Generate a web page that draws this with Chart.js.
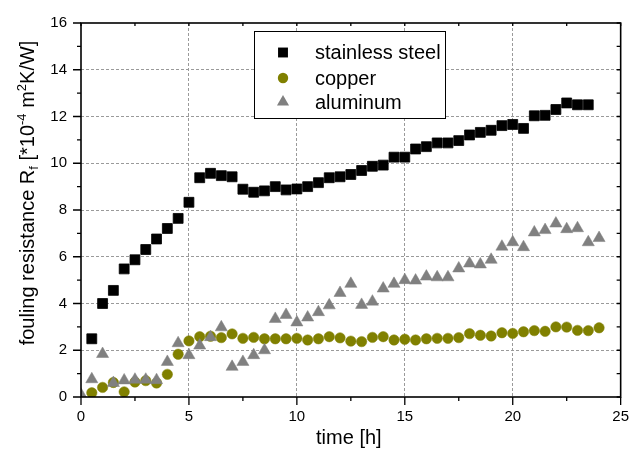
<!DOCTYPE html>
<html>
<head>
<meta charset="utf-8">
<script src="https://cdn.jsdelivr.net/npm/chart.js@4/dist/chart.umd.min.js"></script>
<style>
  html, body { margin: 0; padding: 0; background: #fff; }
  #wrap { width: 640px; height: 454px; position: relative; }
</style>
</head>
<body>
<div id="wrap"><canvas id="chart" width="640" height="454"></canvas></div>
<script>
// Fouling resistance Rf [*10^-4 m^2K/W] versus time [h] for three tube materials.
const seriesNames = ['stainless steel', 'copper', 'aluminum'];

const steelTime = [0.5, 1, 1.5, 2, 2.5, 3, 3.5, 4, 4.5, 5, 5.5, 6, 6.5, 7, 7.5, 8, 8.5, 9, 9.5, 10,
  10.5, 11, 11.5, 12, 12.5, 13, 13.5, 14, 14.5, 15, 15.5, 16, 16.5, 17, 17.5, 18, 18.5, 19, 19.5, 20,
  20.5, 21, 21.5, 22, 22.5, 23, 23.5];
const steelRf = [2.49, 4.0, 4.56, 5.48, 5.87, 6.31, 6.76, 7.21, 7.64, 8.33, 9.38, 9.57, 9.47, 9.42, 8.89, 8.76, 8.82, 9.0, 8.86, 8.9,
  9.0, 9.17, 9.38, 9.42, 9.52, 9.69, 9.87, 9.92, 10.26, 10.26, 10.61, 10.71, 10.87, 10.87, 10.97, 11.21, 11.32, 11.41, 11.61, 11.66,
  11.49, 12.03, 12.05, 12.30, 12.58, 12.5, 12.5];

const copperTime = [0.5, 1, 1.5, 2, 2.5, 3, 3.5, 4, 4.5, 5, 5.5, 6, 6.5, 7, 7.5, 8, 8.5, 9, 9.5, 10,
  10.5, 11, 11.5, 12, 12.5, 13, 13.5, 14, 14.5, 15, 15.5, 16, 16.5, 17, 17.5, 18, 18.5, 19, 19.5, 20,
  20.5, 21, 21.5, 22, 22.5, 23, 23.5, 24];
const copperRf = [0.18, 0.41, 0.62, 0.22, 0.64, 0.70, 0.60, 0.97, 1.83, 2.40, 2.58, 2.60, 2.54, 2.70, 2.51, 2.55, 2.49, 2.49, 2.49, 2.51,
  2.44, 2.49, 2.58, 2.53, 2.39, 2.37, 2.55, 2.58, 2.44, 2.47, 2.44, 2.49, 2.51, 2.51, 2.54, 2.71, 2.64, 2.61, 2.75, 2.72,
  2.79, 2.84, 2.81, 3.00, 2.99, 2.85, 2.84, 2.96];

const aluminumTime = [0, 0.5, 1, 1.5, 2, 2.5, 3, 3.5, 4, 4.5, 5, 5.5, 6, 6.5, 7, 7.5, 8, 8.5, 9, 9.5, 10,
  10.5, 11, 11.5, 12, 12.5, 13, 13.5, 14, 14.5, 15, 15.5, 16, 16.5, 17, 17.5, 18, 18.5, 19, 19.5, 20,
  20.5, 21, 21.5, 22, 22.5, 23, 23.5, 24];
const aluminumRf = [0.1, 0.76, 1.84, 0.6, 0.71, 0.74, 0.74, 0.72, 1.5, 2.3, 1.79, 2.2, 2.56, 2.98, 1.29, 1.5, 1.79, 2.0, 3.34, 3.51, 3.19,
  3.4, 3.63, 3.92, 4.45, 4.84, 3.94, 4.08, 4.64, 4.84, 5.0, 4.98, 5.15, 5.12, 5.12, 5.5, 5.71, 5.67, 5.87, 6.43, 6.62,
  6.41, 7.04, 7.14, 7.42, 7.18, 7.22, 6.62, 6.8];

// Axis ticks (major ones carry labels and dashed grid lines)
const xMajorTicks = [0, 5, 10, 15, 20, 25];
const xMinorTicks = [2.5, 7.5, 12.5, 17.5, 22.5];
const yMajorTicks = [0, 2, 4, 6, 8, 10, 12, 14, 16];
const yMinorTicks = [1, 3, 5, 7, 9, 11, 13, 15];

const xTitle = 'time [h]';
// y title as rich-text runs: normal / sub / sup
const yTitleRuns = [
  { text: 'fouling resistance R', kind: 'n' },
  { text: 'f', kind: 'sub' },
  { text: ' [*10', kind: 'n' },
  { text: '-4', kind: 'sup' },
  { text: ' m', kind: 'n' },
  { text: '2', kind: 'sup' },
  { text: 'K/W]', kind: 'n' }
];

const FONT = "'Liberation Sans', Arial, Helvetica, sans-serif";

function toPoints(xs, ys) {
  return xs.map((x, i) => ({ x: x, y: ys[i] }));
}

function drawMarker(ctx, style, x, y, r, color) {
  ctx.fillStyle = color;
  ctx.beginPath();
  if (style === 'rect') {
    const s = Math.SQRT1_2 * r;
    ctx.rect(x - s, y - s, 2 * s, 2 * s);
  } else if (style === 'circle') {
    ctx.arc(x, y, r, 0, Math.PI * 2);
  } else if (style === 'triangle') {
    let a = 0;
    ctx.moveTo(x + Math.sin(a) * r, y - Math.cos(a) * r);
    a += Math.PI * 2 / 3;
    ctx.lineTo(x + Math.sin(a) * r, y - Math.cos(a) * r);
    a += Math.PI * 2 / 3;
    ctx.lineTo(x + Math.sin(a) * r, y - Math.cos(a) * r);
    ctx.closePath();
  }
  ctx.fill();
}

// Box frame with outward major/minor ticks on left & bottom, inward ticks on right & top
const framePlugin = {
  id: 'frame',
  afterDatasetsDraw(chart) {
    const { ctx, chartArea: a, scales: { x, y } } = chart;
    ctx.save();
    ctx.strokeStyle = '#000';
    ctx.lineWidth = 1.3;
    ctx.beginPath();
    const yMarks = yMajorTicks.map(v => [v, 8]).concat(yMinorTicks.map(v => [v, 4]));
    for (const [v, len] of yMarks) {
      const p = y.getPixelForValue(v);
      ctx.moveTo(a.left - len, p); ctx.lineTo(a.left, p);
      ctx.moveTo(a.right, p); ctx.lineTo(a.right - 4, p);
    }
    const xMarks = xMajorTicks.map(v => [v, 8]).concat(xMinorTicks.map(v => [v, 4]));
    for (const [v, len] of xMarks) {
      const p = x.getPixelForValue(v);
      ctx.moveTo(p, a.bottom); ctx.lineTo(p, a.bottom + len);
      ctx.moveTo(p, a.top); ctx.lineTo(p, a.top + 3);
    }
    ctx.stroke();
    ctx.lineWidth = 1.6;
    ctx.strokeRect(a.left, a.top, a.right - a.left, a.bottom - a.top);
    ctx.restore();
  }
};

// Axis titles (y title with subscript / superscripts)
const titlesPlugin = {
  id: 'titles',
  afterDraw(chart) {
    const { ctx, chartArea: a } = chart;
    ctx.save();
    ctx.fillStyle = '#000';
    ctx.font = '20px ' + FONT;
    ctx.textAlign = 'center';
    ctx.textBaseline = 'alphabetic';
    ctx.fillText(xTitle, (a.left + a.right) / 2 - 2, 444);

    const big = 20, small = 13;
    const fontFor = k => (k === 'n' ? big : small) + 'px ' + FONT;
    let total = 0;
    for (const r of yTitleRuns) { ctx.font = fontFor(r.kind); total += ctx.measureText(r.text).width; }
    ctx.translate(34, 193);
    ctx.rotate(-Math.PI / 2);
    ctx.textAlign = 'left';
    let cx = -total / 2;
    for (const r of yTitleRuns) {
      ctx.font = fontFor(r.kind);
      const dy = r.kind === 'sup' ? -8 : (r.kind === 'sub' ? 4 : 0);
      ctx.fillText(r.text, cx, dy);
      cx += ctx.measureText(r.text).width;
    }
    ctx.restore();
  }
};

// Framed legend inside the plot area
const legendBoxPlugin = {
  id: 'legendBox',
  afterDraw(chart) {
    const { ctx } = chart;
    ctx.save();
    ctx.fillStyle = '#fff';
    ctx.fillRect(254.5, 31.5, 191, 87);
    ctx.strokeStyle = '#000';
    ctx.lineWidth = 1;
    ctx.strokeRect(254.5, 31.5, 191, 87);
    const rows = [52.5, 78, 102];
    chart.data.datasets.forEach((ds, i) => {
      drawMarker(ctx, ds.pointStyle, 283, rows[i], ds.pointRadius, ds.backgroundColor);
      ctx.fillStyle = '#000';
      ctx.font = '20px ' + FONT;
      ctx.textAlign = 'left';
      ctx.textBaseline = 'middle';
      ctx.fillText(ds.label, 315, rows[i] + 1);
    });
    ctx.restore();
  }
};

const gridColor = ctx => {
  const v = ctx.tick ? ctx.tick.value : null;
  const s = ctx.scale;
  return (v === s.min || v === s.max) ? 'rgba(0,0,0,0)' : '#9a9a9a';
};

new Chart(document.getElementById('chart'), {
  type: 'scatter',
  data: {
    datasets: [
      {
        label: seriesNames[0],
        data: toPoints(steelTime, steelRf),
        pointStyle: 'rect', pointRadius: 7,
        backgroundColor: '#000000', borderColor: '#000000', borderWidth: 0.8,
        order: 3
      },
      {
        label: seriesNames[1],
        data: toPoints(copperTime, copperRf),
        pointStyle: 'circle', pointRadius: 5.2,
        backgroundColor: '#808000', borderColor: '#808000', borderWidth: 0.5,
        order: 2
      },
      {
        label: seriesNames[2],
        data: toPoints(aluminumTime, aluminumRf),
        pointStyle: 'triangle', pointRadius: 7,
        backgroundColor: '#808080', borderColor: '#808080', borderWidth: 0.5,
        order: 1
      }
    ]
  },
  options: {
    responsive: false,
    animation: false,
    devicePixelRatio: 1,
    layout: { padding: { top: 17, right: 16, left: 0, bottom: 0 } },
    plugins: { legend: { display: false }, tooltip: { enabled: false } },
    scales: {
      x: {
        type: 'linear', min: 0, max: 25,
        afterBuildTicks: s => { s.ticks = xMajorTicks.map(v => ({ value: v })); },
        afterFit: s => { s.height = 57; },
        ticks: { font: { family: FONT, size: 15 }, color: '#000', padding: 11, maxRotation: 0, autoSkip: false },
        grid: { color: gridColor, lineWidth: 1, drawTicks: false, tickLength: 0 },
        border: { display: false, dash: [3, 2] }
      },
      y: {
        type: 'linear', min: 0, max: 16,
        afterBuildTicks: s => { s.ticks = yMajorTicks.map(v => ({ value: v })); },
        afterFit: s => { s.width = 81; },
        ticks: { font: { family: FONT, size: 15 }, color: '#000', padding: 14, autoSkip: false },
        grid: { color: gridColor, lineWidth: 1, drawTicks: false, tickLength: 0 },
        border: { display: false, dash: [3, 2] }
      }
    }
  },
  plugins: [framePlugin, titlesPlugin, legendBoxPlugin]
});
</script>
</body>
</html>
